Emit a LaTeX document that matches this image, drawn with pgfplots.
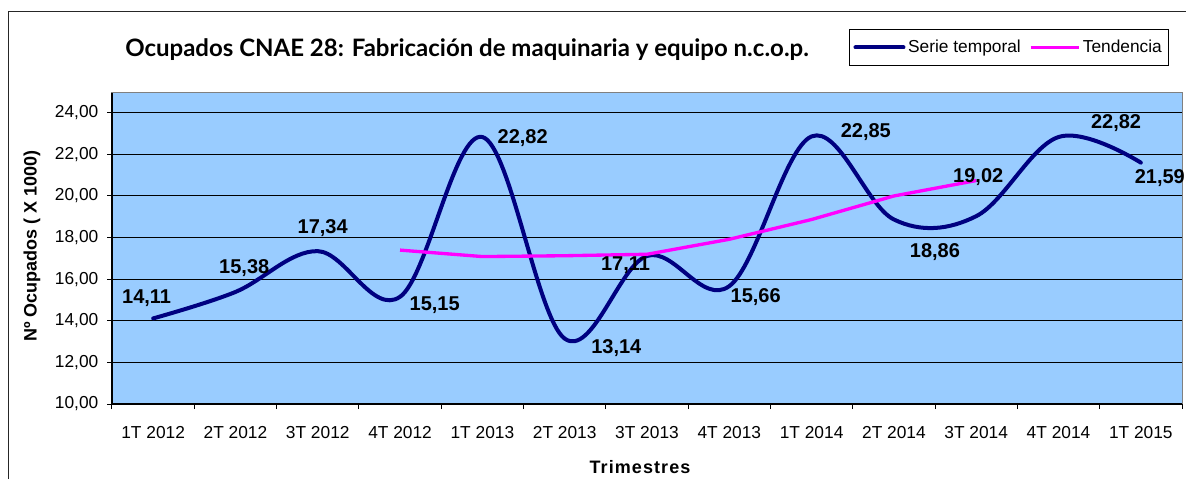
\documentclass[border=0pt]{standalone}
\usepackage{pgfplots}
\pgfplotsset{compat=1.18}
\usepackage{pgfplotstable}
\usepackage{fontspec}
\setmainfont{Liberation Sans}
\newfontfamily\titlefont{Lato}
\definecolor{plotbg}{RGB}{153,204,255}
\definecolor{serie}{RGB}{0,0,128}
\definecolor{tend}{RGB}{255,0,255}
\definecolor{pborder}{RGB}{128,128,128}

\pgfplotstableread{
x y
0 14.11
1 15.38
2 17.34
3 15.15
4 22.82
5 13.14
6 17.11
7 15.66
8 22.85
9 18.86
10 19.02
11 22.82
12 21.59
}\serietable

\pgfplotstableread{
x y
3 17.39
4 17.08
5 17.12
6 17.19
7 17.91
8 18.86
9 19.99
10 20.73
}\tendtable

% value label: x, y, shift right (px), shift up (px), text
\newcommand\vlab[5]{\node[anchor=base, inner sep=0pt, text=black, font=\bfseries\fontsize{15}{18}\selectfont, xshift=#3*0.75pt, yshift=#4*0.75pt] at (axis cs:#1,#2) {#5};}

\begin{document}
\begin{tikzpicture}
\path[use as bounding box] (0pt,0pt) rectangle (889.5pt,-359.25pt);
\draw[line width=0.75pt, black!85] (6pt,-359.25pt) -- (6pt,-8.25pt) -- (889.5pt,-8.25pt);
\begin{axis}[
  at={(84pt,-303pt)}, anchor=south west,
  scale only axis, width=802.5pt, height=233.5pt,
  xmin=-0.5, xmax=12.5, ymin=10, ymax=24.95,
  clip=false,
  axis x line*=bottom, axis y line*=left,
  axis line style={-, black, line width=0.9pt},
  axis background/.style={fill=plotbg, draw=pborder, line width=0.75pt},
  ytick={10,12,...,24},
  ymajorgrids, grid style={black, line width=0.75pt},
  tick align=outside, major tick length=3.75pt,
  tick style={black, line width=0.75pt},
  xtick={-0.5,0.5,...,12.5}, xticklabels={},
  extra x ticks={0,...,12},
  extra x tick labels={1T 2012,2T 2012,3T 2012,4T 2012,1T 2013,2T 2013,3T 2013,4T 2013,1T 2014,2T 2014,3T 2014,4T 2014,1T 2015},
  extra x tick style={major tick length=0pt, grid=none},
  ticklabel style={font=\fontsize{13}{15}\selectfont},
  xticklabel style={yshift=-13.5pt},
  /pgf/number format/assume math mode=true,
  yticklabel style={xshift=-3pt, /pgf/number format/.cd, fixed, fixed zerofill, precision=2, use comma},
  xlabel={Trimestres},
  xlabel style={at={(axis description cs:0.4935,-0.2014)}, anchor=center, font=\bfseries\fontsize{13.5}{16}\selectfont\addfontfeature{LetterSpace=6}},
  ylabel={Nº Ocupados ( X 1000)},
  ylabel style={at={(axis description cs:-0.0748,0.508)}, anchor=center, font=\bfseries\fontsize{13.5}{16}\selectfont},
  title={Ocupados CNAE 28: Fabricación de maquinaria y equipo n.c.o.p.},
  title style={at={(axis description cs:0.3318,1.0912)}, anchor=base, font=\titlefont\bfseries\fontsize{18}{21}\selectfont},
  legend style={at={(axis description cs:0.9879,1.2046)}, anchor=north east, legend columns=2, draw=black, line width=0.75pt, fill=white, font=\fontsize{13}{15}\selectfont, inner xsep=3pt, inner ysep=6pt, /tikz/every even column/.append style={column sep=4pt}},
  legend image code/.code={\draw[#1] (0pt,0pt) -- (36pt,0pt);},
]
\addplot[serie, line width=3pt, smooth, tension=0.6, mark=none, line join=round, line cap=round] table[x=x, y=y] {\serietable};
\addlegendentry{Serie temporal}
\addplot[tend, line width=2.5pt, mark=none, line join=round] table[x=x, y=y] {\tendtable};
\addlegendentry{Tendencia}
\vlab{0}{14.11}{-6.5}{15.4}{14,11}
\vlab{1}{15.38}{8.8}{18.9}{15,38}
\vlab{2}{17.34}{4.9}{18.1}{17,34}
\vlab{3}{15.15}{34.6}{-13.6}{15,15}
\vlab{4}{22.82}{40.3}{-6.3}{22,82}
\vlab{5}{13.14}{51.6}{-15}{13,14}
\vlab{6}{17.11}{-21.5}{-15}{17,11}
\vlab{7}{15.66}{26.4}{-16.7}{15,66}
\vlab{8}{22.85}{54.2}{-0.7}{22,85}
\vlab{9}{18.86}{41}{-38.4}{18,86}
\vlab{10}{19.02}{2}{33.3}{19,02}
\vlab{11}{22.82}{57.5}{8.7}{22,82}
\vlab{12}{21.59}{19}{-20.7}{21,59}
\end{axis}
\end{tikzpicture}
\end{document}
